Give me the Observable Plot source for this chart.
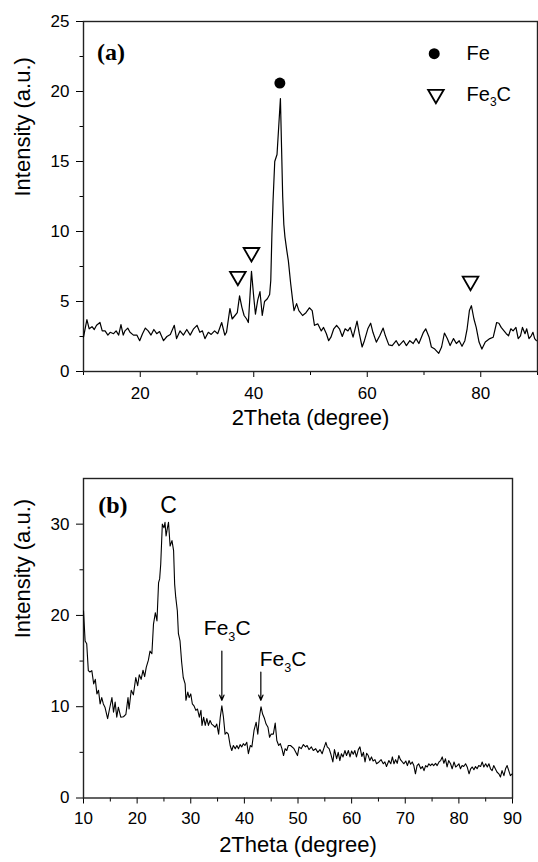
<!DOCTYPE html>
<html><head><meta charset="utf-8">
<script src="https://cdn.jsdelivr.net/npm/d3@7"></script>
<script src="https://cdn.jsdelivr.net/npm/@observablehq/plot@0.6"></script>
<style>
html,body{margin:0;padding:0;background:#fff;}
#chart svg{display:block;}
</style></head><body><div id="chart"></div>
<script>
// ---------- Panel (a) data ----------
const thetaA = [10.0,10.6,11.0,11.5,11.9,12.3,12.9,13.3,13.8,14.3,14.7,15.3,15.75,16.2,16.6,17.0,17.3,17.8,18.2,18.8,19.4,19.9,20.4,20.9,21.4,21.9,22.4,22.9,23.4,24.1,24.7,25.3,26.0,26.4,27.0,27.6,28.2,28.8,29.4,30.0,30.5,30.95,31.4,32.0,32.5,33.1,33.65,34.35,34.9,35.2,35.8,36.2,36.7,37.1,37.5,37.9,38.3,38.75,39.05,39.6,40.0,40.3,40.7,41.1,41.5,41.9,42.4,42.8,43.0,43.2,43.4,43.7,44.1,44.4,44.7,44.9,45.1,45.3,45.5,45.8,46.1,46.5,46.85,47.1,47.55,47.95,48.6,49.2,49.8,50.3,50.7,51.3,51.9,52.3,52.8,53.2,53.6,54.1,54.6,55.1,55.6,56.1,56.6,57.0,57.5,58.2,58.6,59.1,59.5,60.1,60.6,61.0,61.6,62.2,62.8,63.2,63.8,64.4,65.1,65.6,66.4,66.9,67.5,68.1,68.6,69.1,69.9,70.3,70.9,71.3,71.9,72.6,73.1,73.6,74.1,74.6,75.2,75.7,76.2,76.7,77.2,77.6,78.0,78.35,78.8,79.2,79.7,80.2,80.8,81.6,82.2,82.8,83.2,83.6,84.1,84.5,84.9,85.3,85.7,86.2,86.6,87.0,87.35,87.8,88.1,88.5,88.9,89.2,89.5,89.8];
const intensityA = [2.45,3.7,3.05,3.2,3.0,3.3,3.5,2.9,2.9,2.6,2.8,2.7,2.9,2.6,3.35,2.6,2.9,3.1,2.8,2.6,2.6,2.2,2.7,3.1,2.9,2.6,3.0,2.7,2.85,2.2,2.5,2.65,3.3,2.35,2.9,2.6,3.0,2.6,3.05,3.3,2.8,2.9,2.35,2.8,2.65,2.9,2.7,3.5,2.6,2.8,4.5,3.75,4.0,4.2,5.4,4.6,4.0,3.75,3.5,7.15,5.3,4.1,5.1,5.7,4.0,5.0,5.2,5.5,6.5,9.8,12.2,15.0,15.5,17.5,19.5,16.0,12.5,10.5,9.6,8.7,7.9,6.3,5.1,4.35,4.85,4.35,4.0,4.2,4.55,4.35,3.3,3.4,2.9,3.15,2.7,2.2,2.45,3.05,3.3,3.05,2.5,3.05,2.9,3.15,2.45,3.6,2.7,1.75,2.2,3.05,3.45,2.8,2.1,2.55,3.1,2.55,1.9,1.85,2.2,1.85,2.2,1.85,2.2,2.0,2.35,2.0,2.8,3.05,2.45,1.75,1.6,1.3,1.75,2.75,2.35,1.85,2.35,2.0,2.2,1.8,2.2,3.05,4.35,4.7,3.75,3.15,2.1,1.6,2.1,2.35,2.45,3.5,3.45,3.15,2.9,2.7,2.55,3.05,2.9,3.15,2.35,2.55,3.15,2.7,3.05,2.35,2.55,2.8,2.35,2.2];

const xMajorA = [20, 40, 60, 80];
const xMinorA = [10, 30, 50, 70, 90];
const yMajorA = [0, 5, 10, 15, 20, 25];
const yMinorA = [2.5, 7.5, 12.5, 17.5, 22.5];

// peak markers (a)
const feMarkT = [44.6];
const feMarkI = [20.6];
const fe3cMarkT = [37.2, 39.6, 78.2];
const fe3cMarkI = [6.8, 8.5, 6.45];
// legend (a)
const legendLabels = ["Fe", "Fe3C"];
const legendSymT = [71.8, 72.1];
const legendTextT = [77.5, 77.5];
const legendI = [22.7, 19.8];
const panelTagA = ["(a)"]; const panelTagAT = [12.4]; const panelTagAI = [22.8];

// ---------- Panel (b) data ----------
const thetaB = [10.0,10.3,10.6,10.9,11.2,11.55,11.9,12.2,12.5,12.8,13.1,13.4,13.7,14.0,14.5,14.85,15.3,15.6,15.9,16.2,16.5,16.95,17.45,17.9,18.3,18.5,18.9,19.3,19.75,20.1,20.4,20.75,21.1,21.4,21.7,22.1,22.4,22.75,23.05,23.4,23.7,24.0,24.2,24.4,24.7,25.0,25.2,25.4,25.65,25.85,26.15,26.5,26.8,27.0,27.2,27.5,27.7,28.0,28.3,28.6,28.95,29.1,29.45,29.7,30.0,30.3,30.6,30.95,31.25,31.6,31.9,32.1,32.4,32.7,33.0,33.3,33.6,33.9,34.2,34.55,34.85,35.2,35.5,35.8,36.1,36.4,36.7,37.0,37.35,37.65,37.95,38.3,38.6,38.9,39.2,39.5,39.8,40.1,40.45,40.75,41.1,41.4,41.8,42.2,42.5,42.8,43.1,43.4,43.75,44.05,44.4,44.7,45.0,45.4,45.75,46.05,46.4,46.7,47.0,47.3,47.6,47.9,48.2,48.6,49.25,49.9,50.2,50.6,51.0,51.4,51.7,52.05,52.5,52.85,53.3,53.7,54.1,54.5,54.8,55.2,55.45,55.8,56.1,56.5,56.8,57.2,57.5,57.8,58.1,58.4,58.75,59.05,59.4,59.7,60.0,60.3,60.6,60.9,61.25,61.55,61.9,62.2,62.5,62.8,63.1,63.4,63.7,64.0,64.35,64.65,65.1,65.5,65.9,66.2,66.5,66.95,67.3,67.6,67.9,68.2,68.5,68.8,69.1,69.45,69.75,70.1,70.4,70.7,71.0,71.3,71.6,71.9,72.2,72.5,72.9,73.2,73.5,73.8,74.1,74.4,74.7,75.0,75.3,75.65,75.95,76.3,76.6,76.9,77.2,77.5,77.8,78.1,78.45,78.75,79.1,79.4,79.7,80.0,80.3,80.6,80.9,81.25,81.55,81.9,82.2,82.5,82.8,83.1,83.4,83.7,84.05,84.35,84.65,85.0,85.3,85.6,85.9,86.2,86.5,86.8,87.1,87.45,87.75,88.05,88.4,88.7,89.0,89.3,89.6,89.95];
const intensityB = [20.5,17.2,16.9,13.95,13.8,13.95,12.5,13.0,11.4,11.8,10.3,11.0,10.3,9.95,8.7,9.75,11.0,9.4,10.5,8.85,9.95,8.85,8.9,9.15,11.0,9.75,11.8,11.3,13.2,12.3,13.5,13.0,14.0,13.3,14.3,15.1,16.1,15.8,19.05,20.3,19.4,23.6,24.0,25.6,30.0,29.6,30.2,28.7,29.6,30.2,27.6,28.2,27.1,23.4,22.0,20.5,18.0,17.2,14.9,13.2,12.5,10.7,11.6,11.0,11.4,10.3,10.1,9.6,9.75,8.85,9.6,7.95,8.85,7.95,8.7,7.95,8.5,8.1,7.95,7.75,8.1,7.0,8.85,10.1,8.85,7.0,7.2,7.0,5.75,5.2,5.75,5.4,5.75,5.4,5.85,5.6,5.95,5.75,6.1,4.85,5.75,5.6,7.4,8.3,7.0,8.85,10.0,9.2,8.7,8.1,7.75,6.65,7.0,7.0,8.2,6.3,5.75,5.95,5.4,4.65,5.4,5.2,5.75,5.75,5.4,4.65,5.6,5.4,5.85,5.6,5.75,5.3,5.6,5.2,5.4,5.0,5.3,4.85,5.4,6.1,5.6,5.4,4.85,3.95,5.3,4.3,5.0,4.1,4.85,4.5,5.2,4.65,5.2,4.5,5.15,4.8,5.2,4.5,5.3,5.6,4.55,5.0,3.95,4.9,4.65,4.1,4.5,4.05,4.2,3.75,3.95,4.2,3.75,3.95,3.45,4.1,3.75,4.5,3.75,4.2,3.8,4.65,4.2,3.95,3.75,4.05,3.55,4.1,3.7,3.95,3.55,2.65,3.55,3.75,3.2,3.45,3.0,3.55,3.4,3.75,3.55,3.75,3.55,3.8,3.55,3.95,4.1,4.5,3.8,4.3,3.4,4.1,3.75,3.2,3.95,3.4,3.55,3.75,3.2,3.55,3.45,3.75,3.4,2.65,3.2,3.4,3.1,3.45,3.2,3.55,3.45,3.95,3.4,3.75,3.4,3.75,3.2,3.0,3.55,3.2,2.85,2.65,2.3,3.0,2.45,3.2,3.55,3.0,2.45,2.65];

const xMajorB = [10, 20, 30, 40, 50, 60, 70, 80, 90];
const xMinorB = [15, 25, 35, 45, 55, 65, 75, 85];
const yMajorB = [0, 10, 20, 30];
const yMinorB = [5, 15, 25];

const peakLabelsB = ["C", "Fe3C", "Fe3C"];
const peakLabelT = [25.85, 36.8, 47.2];
const peakLabelI = [32.05, 18.6, 15.2];
const arrowT = [35.8, 43.07];
const arrowTopI = [16.1, 13.8];
const arrowTipI = [10.7, 10.7];
const panelTagB = ["(b)"]; const panelTagBT = [12.74]; const panelTagBI = [32.1];

const titleX = ["2Theta (degree)"];
const titleY = ["Intensity (a.u.)"];

// ---------- helpers ----------
const sans = "'Liberation Sans', Arial, Helvetica, sans-serif";
const serif = "'Liberation Serif', 'Times New Roman', serif";
const ns = "http://www.w3.org/2000/svg";
function subscriptFe3C(svg) {
  svg.querySelectorAll("text").forEach(t => {
    if (t.textContent === "Fe3C") {
      const g = t.closest("[font-size]");
      const fs = parseFloat(g ? g.getAttribute("font-size") : 20) || 20;
      while (t.firstChild) t.removeChild(t.firstChild);
      t.appendChild(document.createTextNode("Fe"));
      const s = document.createElementNS(ns, "tspan");
      s.setAttribute("font-size", fs * 0.6);
      s.setAttribute("dy", fs * 0.28);
      s.textContent = "3";
      const c = document.createElementNS(ns, "tspan");
      c.setAttribute("font-size", fs);
      c.setAttribute("dy", -fs * 0.28);
      c.textContent = "C";
      t.appendChild(s); t.appendChild(c);
    }
  });
}

const dataA = thetaA.map((t, k) => ({t, i: intensityA[k]}));
const dataB = thetaB.map((t, k) => ({t, i: intensityB[k]}));
const fe = feMarkT.map((t, k) => ({t, i: feMarkI[k]}));
const fe3c = fe3cMarkT.map((t, k) => ({t, i: fe3cMarkI[k]}));
const legend = legendLabels.map((l, k) => ({l, st: legendSymT[k], tt: legendTextT[k], i: legendI[k]}));
const peaksB = peakLabelsB.map((l, k) => ({l, t: peakLabelT[k], i: peakLabelI[k], fs: k === 0 ? 23 : 21}));
const arrowsB = arrowT.map((t, k) => ({t, i1: arrowTopI[k], i2: arrowTipI[k]}));

function axes(xMajor, xMinor, yMajor, yMinor, xPad) {
  return [
    Plot.axisX({ticks: xMajor, tickSize: 6, tickPadding: xPad, fontSize: 17, label: null, tickFormat: d => String(d)}),
    Plot.axisX({ticks: xMinor, tickSize: 4, tickFormat: () => "", label: null}),
    Plot.axisY({ticks: yMajor, tickSize: 7, tickPadding: 7, fontSize: 17, label: null, tickFormat: d => String(d)}),
    Plot.axisY({ticks: yMinor, tickSize: 3.5, tickFormat: () => "", label: null}),
    Plot.frame({stroke: "#222", strokeWidth: 1.4}),
    Plot.text(titleX, {frameAnchor: "bottom", text: d => d, fontSize: 22, lineAnchor: "middle"}),
    Plot.text(titleY, {frameAnchor: "left", dx: -61, rotate: -90, text: d => d, fontSize: 22, lineAnchor: "middle"})
  ];
}

const plotA = Plot.plot({
  width: 538, height: 445,
  marginLeft: 83, marginRight: 1, marginTop: 21, marginBottom: 74,
  x: {domain: [10, 90]},
  y: {domain: [0, 25]},
  style: {fontFamily: sans, fontSize: "17px", background: "white", color: "black"},
  marks: [
    ...axes(xMajorA, xMinorA, yMajorA, yMinorA, 9),
    Plot.line(dataA, {x: "t", y: "i", stroke: "black", strokeWidth: 1.2}),
    Plot.dot(fe, {x: "t", y: "i", r: 5.5, fill: "black", stroke: "none"}),
    Plot.dot(fe3c, {x: "t", y: "i", symbol: "triangle", rotate: 180, r: 5.8, fill: "white", stroke: "black", strokeWidth: 1.8}),
    Plot.dot(legend.slice(0, 1), {x: "st", y: "i", r: 5.5, fill: "black", stroke: "none"}),
    Plot.dot(legend.slice(1), {x: "st", y: "i", symbol: "triangle", rotate: 180, r: 5.8, fill: "white", stroke: "black", strokeWidth: 1.8}),
    Plot.text(legend, {x: "tt", y: "i", text: "l", textAnchor: "start", fontSize: 20, lineAnchor: "middle"}),
    Plot.text(panelTagA, {x: () => panelTagAT[0], y: () => panelTagAI[0], text: d => d, textAnchor: "start", fontSize: 24, fontWeight: "bold", fontFamily: serif, lineAnchor: "middle"})
  ]
});

const plotB = Plot.plot({
  width: 538, height: 417,
  marginLeft: 83, marginRight: 26, marginTop: 33, marginBottom: 64.5,
  x: {domain: [10, 90]},
  y: {domain: [0, 35]},
  style: {fontFamily: sans, fontSize: "17px", background: "white", color: "black"},
  marks: [
    ...axes(xMajorB, xMinorB, yMajorB, yMinorB, 8),
    Plot.line(dataB, {x: "t", y: "i", stroke: "black", strokeWidth: 1.1}),
    Plot.arrow(arrowsB, {x1: "t", x2: "t", y1: "i1", y2: "i2", stroke: "black", strokeWidth: 1.2, headLength: 7, headAngle: 45}),
    Plot.text(peaksB.slice(0, 1), {x: "t", y: "i", text: "l", fontSize: 23, lineAnchor: "middle"}),
    Plot.text(peaksB.slice(1), {x: "t", y: "i", text: "l", fontSize: 21, lineAnchor: "middle"}),
    Plot.text(panelTagB, {x: () => panelTagBT[0], y: () => panelTagBI[0], text: d => d, textAnchor: "start", fontSize: 24, fontWeight: "bold", fontFamily: serif, lineAnchor: "middle"})
  ]
});

// offset the x titles below the plot area
function shiftTitle(svg, dyPx) {
  svg.querySelectorAll("text").forEach(t => {
    if (t.textContent === titleX[0]) {
      const g = t.parentNode;
      const cur = g.getAttribute("transform") || "";
      g.setAttribute("transform", cur + ` translate(0,${dyPx})`);
    }
  });
}
shiftTitle(plotA, 46);
shiftTitle(plotB, 47);
subscriptFe3C(plotA);
subscriptFe3C(plotB);

document.getElementById("chart").append(plotA, plotB);
</script>
</body></html>
